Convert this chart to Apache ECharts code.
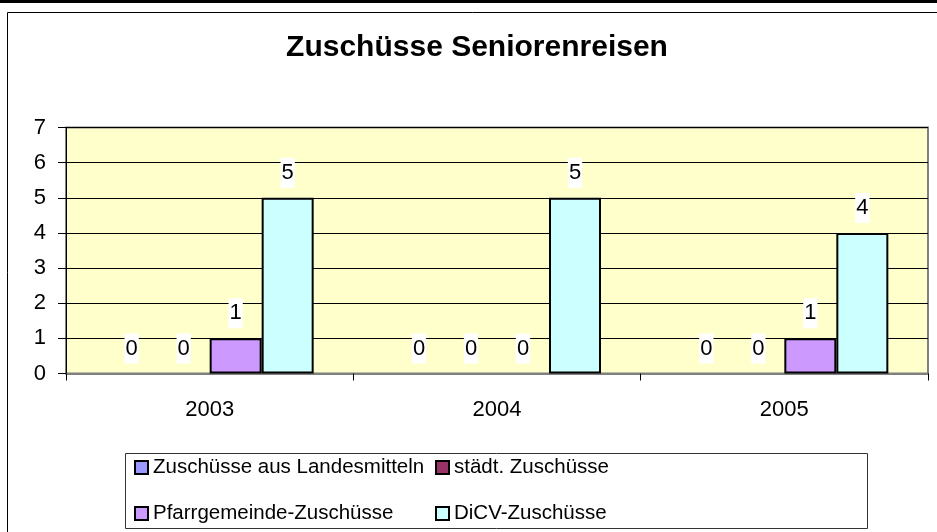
<!DOCTYPE html>
<html>
<head>
<meta charset="utf-8">
<script src="https://cdn.jsdelivr.net/npm/echarts@6/dist/echarts.min.js"></script>
<style>
  html, body { margin: 0; padding: 0; background: #fff; }
  #chart { width: 937px; height: 532px; }
</style>
</head>
<body>
<div id="chart"></div>
<script>
// Daten
const years = ["2003", "2004", "2005"];
const landesmittel = [0, 0, 0];
const staedtisch = [0, 0, 0];
const pfarrgemeinde = [1, 0, 1];
const dicv = [5, 5, 4];
const yTicks = [0, 1, 2, 3, 4, 5, 6, 7];

const font = "'Liberation Sans', Arial, sans-serif";

const labelStyle = {
  show: true,
  position: "top",
  distance: 10,
  fontFamily: font,
  fontSize: 22,
  color: "#000",
  backgroundColor: "#fff",
  padding: [4, 1, 4, 1],
};

// Serie anlegen (Balken mit Wert 0 ohne Rahmen)
const makeSeries = (name, data, color) => ({
  name,
  type: "bar",
  data: data.map((v) => (v === 0 ? { value: v, itemStyle: { borderWidth: 0 } } : v)),
  barWidth: 52,
  barGap: "0%",
  itemStyle: { color, borderColor: "#000", borderWidth: 2 },
  label: labelStyle,
});

const legendText = { fontFamily: font, fontSize: 20.5, lineHeight: 20, color: "#000" };

const option = {
  animation: false,
  backgroundColor: "#fff",
  title: {
    text: "Zuschüsse Seniorenreisen",
    left: 477,
    textAlign: "center",
    top: 33,
    padding: 0,
    textStyle: { fontFamily: font, fontSize: 30, fontWeight: "bold", color: "#000" },
  },
  grid: {
    left: 66,
    right: 9,
    top: 127.5,
    bottom: 158.5,
    show: true,
    backgroundColor: "#FFFFCC",
    borderColor: "#808080",
    borderWidth: 2,
  },
  legend: [
    {
      orient: "vertical",
      left: 134,
      top: 457,
      padding: 0,
      icon: "rect",
      itemWidth: 13,
      itemHeight: 13,
      itemGap: 25,
      textStyle: legendText,
      data: ["Zuschüsse aus Landesmitteln", "Pfarrgemeinde-Zuschüsse"],
    },
    {
      orient: "vertical",
      left: 435,
      top: 457,
      padding: 0,
      icon: "rect",
      itemWidth: 13,
      itemHeight: 13,
      itemGap: 25,
      textStyle: legendText,
      data: ["städt. Zuschüsse", "DiCV-Zuschüsse"],
    },
  ],
  xAxis: {
    type: "category",
    data: years,
    axisLine: { lineStyle: { color: "#808080", width: 2 } },
    axisTick: { show: true, length: 7, lineStyle: { color: "#000" } },
    axisLabel: { margin: 25, fontFamily: font, fontSize: 22, color: "#000" },
  },
  yAxis: {
    type: "value",
    min: yTicks[0],
    max: yTicks[yTicks.length - 1],
    interval: 1,
    axisLine: { show: true, lineStyle: { color: "#000", width: 1 } },
    axisTick: { show: true, length: 8, lineStyle: { color: "#000" } },
    axisLabel: { margin: 20, fontFamily: font, fontSize: 22, color: "#000" },
    splitLine: { lineStyle: { color: "#000", width: 1 } },
  },
  series: [
    makeSeries("Zuschüsse aus Landesmitteln", landesmittel, "#9999FF"),
    makeSeries("städt. Zuschüsse", staedtisch, "#993366"),
    makeSeries("Pfarrgemeinde-Zuschüsse", pfarrgemeinde, "#CC99FF"),
    makeSeries("DiCV-Zuschüsse", dicv, "#CCFFFF"),
  ],
  graphic: [
    { type: "rect", shape: { x: 0, y: 0, width: 937, height: 3 }, style: { fill: "#000" }, silent: true },
    { type: "rect", shape: { x: 7.5, y: 12.5, width: 940, height: 530 }, style: { fill: null, stroke: "#000", lineWidth: 1 }, silent: true, z: -1 },
    { type: "rect", shape: { x: 125.5, y: 453.5, width: 742, height: 75 }, style: { fill: null, stroke: "#333", lineWidth: 1 }, silent: true },
  ],
};

const myChart = echarts.init(document.getElementById("chart"));
myChart.setOption(option);
</script>
</body>
</html>
